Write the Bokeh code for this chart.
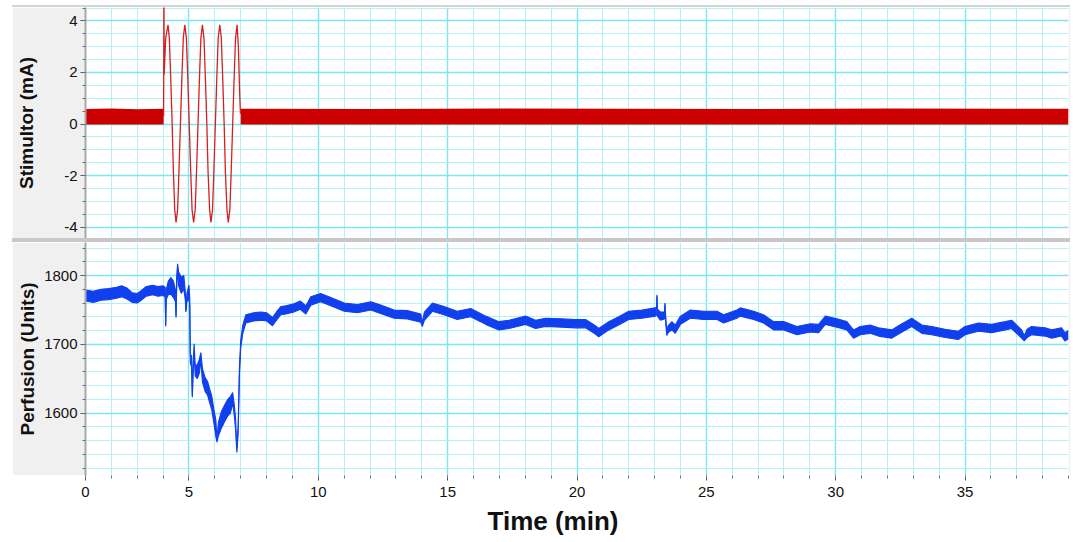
from bokeh.plotting import figure
from bokeh.layouts import column, row
from bokeh.models import Range1d, FixedTicker, Spacer, Div, Title
from bokeh.embed import file_html
from bokeh.resources import INLINE

# ---------------- data ----------------
# x axis (minutes)
x_tick_pos = [1, 5, 10, 15, 20, 25, 30, 35]
x_tick_labels = ["0", "5", "10", "15", "20", "25", "30", "35"]

# Stimulator baseline noise band (mA)
base_a_t = [1.00, 2.00, 3.00, 4.02]
base_a_hi = [0.55, 0.57, 0.54, 0.56]
base_a_lo = [-0.02, -0.02, -0.02, -0.02]
base_b_t = [7.00, 12.0, 17.0, 22.0, 27.0, 32.0, 39.0]
base_b_hi = [0.56, 0.55, 0.57, 0.56, 0.55, 0.57, 0.56]
base_b_lo = [-0.02, -0.02, -0.02, -0.02, -0.02, -0.02, -0.02]

# Stimulator burst (mA)
stim_t = [4.02, 4.03, 4.035, 4.04, 4.10, 4.19,
          4.24, 4.29, 4.35, 4.40, 4.45, 4.50,
          4.56, 4.61, 4.67, 4.73, 4.78, 4.84,
          4.90, 4.95, 5.01, 5.07, 5.12, 5.18,
          5.24, 5.29, 5.35, 5.41, 5.46, 5.52,
          5.58, 5.63, 5.69, 5.74, 5.80, 5.85,
          5.91, 5.96, 6.02, 6.08, 6.13, 6.19,
          6.25, 6.30, 6.36, 6.41, 6.47, 6.52,
          6.58, 6.63, 6.69, 6.75, 6.80, 6.86,
          6.91, 6.96, 6.99]
stim_v = [0.3, 4.9, 4.9, 1.9, 3.33, 3.85,
          3.33, 1.92, 0.0, -1.92, -3.33, -3.82,
          -3.33, -1.92, 0.0, 1.92, 3.33, 3.85,
          3.33, 1.92, 0.0, -1.92, -3.33, -3.82,
          -3.33, -1.92, 0.0, 1.92, 3.33, 3.85,
          3.33, 1.92, 0.0, -1.92, -3.33, -3.82,
          -3.33, -1.92, 0.0, 1.92, 3.33, 3.85,
          3.33, 1.92, 0.0, -1.92, -3.33, -3.82,
          -3.33, -1.92, 0.0, 1.92, 3.33, 3.85,
          3.0, 1.2, 0.4]

# Perfusion (Units): time, centre of the trace, half width of the noise band
perf_t = [1.00, 1.30, 1.60, 1.90, 2.20, 2.40, 2.60, 2.80, 3.00, 3.15, 3.35, 3.60, 3.80, 4.00, 4.08,
          4.10, 4.12, 4.20, 4.30, 4.40, 4.48, 4.50, 4.52, 4.56, 4.60, 4.70, 4.80, 4.86, 4.88, 4.92,
          5.00, 5.03, 5.05, 5.10, 5.13, 5.16, 5.20, 5.24, 5.32, 5.40, 5.46, 5.52, 5.62, 5.72, 5.80,
          5.88, 5.96, 6.04, 6.08, 6.14, 6.25, 6.38, 6.50, 6.60, 6.69, 6.75, 6.80, 6.85, 6.90, 6.95,
          7.00, 7.08, 7.20, 7.50, 7.80, 8.00, 8.23, 8.40, 8.55, 8.75, 9.06, 9.30, 9.52, 9.71, 10.09,
          10.48, 11.00, 11.51, 12.03, 12.41, 12.93, 13.44, 13.96, 14.02, 14.10, 14.41, 14.86, 15.37,
          15.89, 16.27, 16.47, 16.98, 17.37, 18.01, 18.40, 18.78, 19.43, 19.94, 20.33, 20.71, 20.84,
          21.23, 21.61, 22.00, 22.51, 23.03, 23.08, 23.09, 23.11, 23.22, 23.38, 23.40, 23.43, 23.47,
          23.52, 23.67, 23.80, 24.00, 24.38, 24.90, 25.41, 25.67, 26.18, 26.31, 26.83, 27.21, 27.60,
          27.99, 28.50, 29.02, 29.34, 29.60, 30.05, 30.43, 30.69, 30.95, 31.33, 31.65, 32.17, 32.43,
          32.94, 33.33, 33.71, 34.23, 34.74, 35.00, 35.52, 36.03, 36.55, 36.80, 37.19, 37.29, 37.40,
          37.57, 38.09, 38.35, 38.73, 38.86, 39.00]
perf_mid = [1771, 1769, 1772, 1773, 1775, 1777, 1774, 1768, 1767, 1771, 1777, 1779, 1777, 1778, 1776,
            1727, 1772, 1782, 1785, 1780, 1770, 1740, 1785, 1815, 1795, 1786, 1790, 1770, 1748, 1768,
            1776, 1762, 1680, 1675, 1624, 1665, 1695, 1662, 1660, 1668, 1682, 1655, 1642, 1636, 1625,
            1615, 1596, 1578, 1560, 1577, 1590, 1600, 1608, 1612, 1622, 1605, 1585, 1546, 1575, 1660,
            1700, 1722, 1737, 1740, 1741, 1740, 1733, 1742, 1749, 1750, 1753, 1757, 1750, 1763, 1768,
            1762, 1754, 1752, 1756, 1751, 1744, 1743, 1738, 1729, 1741, 1754, 1749, 1742,
            1746, 1739, 1735, 1727, 1729, 1735, 1729, 1732, 1731, 1730, 1730, 1721, 1717,
            1727, 1734, 1742, 1744, 1747, 1748, 1771, 1746, 1741, 1742, 1759, 1735, 1716,
            1722, 1727, 1722, 1735, 1744, 1742, 1742, 1737, 1744, 1747, 1742, 1737, 1727,
            1727, 1720, 1724, 1723, 1735, 1731, 1727, 1715, 1720, 1722, 1718, 1715, 1721,
            1732, 1722, 1720, 1716, 1713, 1720, 1725, 1723, 1727, 1729, 1715, 1709, 1716,
            1720, 1718, 1715, 1718, 1711, 1714]
perf_half = [8, 8, 8, 8, 8, 8, 8, 7, 7, 7, 7, 7, 7, 7, 7,
             1, 7, 10, 12, 12, 8, 1, 10, 2, 10, 12, 10, 6, 1, 6,
             10, 6, 6, 8, 1, 8, 6, 8, 10, 10, 6, 10, 10, 10, 10,
             10, 10, 12, 2, 10, 12, 12, 12, 12, 8, 8, 8, 3, 6, 6,
             6, 6, 6, 6, 6, 6, 6, 6, 6, 6, 6, 6, 6, 6, 6,
             6, 6, 6, 6, 6, 6, 6, 6, 3, 6, 6, 6, 6,
             6, 6, 6, 6, 6, 6, 6, 6, 6, 6, 6, 6, 6,
             6, 6, 6, 6, 6, 5, 1, 5, 6, 5, 1, 5, 3,
             5, 6, 6, 6, 6, 6, 6, 6, 6, 6, 6, 6, 6,
             6, 6, 6, 6, 6, 6, 6, 6, 6, 6, 6, 6, 6,
             6, 6, 6, 6, 6, 6, 6, 6, 6, 6, 6, 4, 6,
             6, 6, 6, 6, 6, 6]

stim_y_ticks = [-4, -2, 0, 2, 4]
stim_y_tick_labels = ["-4", "-2", "0", "2", "4"]
perf_y_ticks = [1600, 1700, 1800]
perf_y_tick_labels = ["1600", "1700", "1800"]

# ---------------- style ----------------
FONT = "Liberation Sans"
PANEL_GRAY = "#f0f0f0"
DIV_GRAY = "#c8c8c8"
MAJ_GRID = "#7ee6ee"
MIN_GRID = "#b2f2f4"
RED = "#cc0000"
RED_LINE = "#d81e1e"
BLUE = "#1040ee"
TOTAL_W = 1070
LEFT_PAD = 12
W = TOTAL_W - LEFT_PAD
X0, X1 = 1.0, 39.0
x_minor = list(range(1, 40))


def style_panel(p, yticks, ylabels, yminor, ylabel, standoff):
    p.background_fill_color = "white"
    p.border_fill_color = PANEL_GRAY
    p.outline_line_color = None
    p.xaxis.visible = False
    p.xaxis.ticker = FixedTicker(ticks=x_tick_pos, minor_ticks=x_minor)
    p.yaxis.ticker = FixedTicker(ticks=yticks, minor_ticks=yminor)
    for g in (p.xgrid, p.ygrid):
        g.grid_line_color = MAJ_GRID
        g.grid_line_width = 1.4
        g.minor_grid_line_color = MIN_GRID
        g.minor_grid_line_width = 1
    ax = p.yaxis[0]
    ax.axis_line_color = "#a8a8a8"
    ax.axis_line_width = 2
    ax.major_tick_line_color = "#505050"
    ax.major_tick_out = 5
    ax.major_tick_in = 0
    ax.minor_tick_line_color = "#707070"
    ax.minor_tick_out = 3
    ax.minor_tick_in = 0
    ax.major_label_overrides = dict(zip(yticks, ylabels))
    ax.major_label_text_font = FONT
    ax.major_label_text_font_size = "15px"
    ax.major_label_text_color = "#111111"
    ax.major_label_standoff = 3
    ax.axis_label = ylabel
    ax.axis_label_text_font = FONT
    ax.axis_label_text_font_size = "19px"
    ax.axis_label_text_font_style = "bold"
    ax.axis_label_text_color = "#111111"
    ax.axis_label_standoff = standoff


# ---------------- top panel ----------------
top = figure(width=W, height=231, output_backend="svg", toolbar_location=None,
             x_range=Range1d(X0, X1), y_range=Range1d(-4.44, 4.52),
             min_border_left=73, min_border_right=2, min_border_top=0, min_border_bottom=0)
style_panel(top, stim_y_ticks, stim_y_tick_labels, [i * 0.5 for i in range(-9, 10)],
            "Stimultor (mA)", 24)

top.varea(x=base_a_t, y1=base_a_lo, y2=base_a_hi, fill_color=RED)
top.varea(x=base_b_t, y1=base_b_lo, y2=base_b_hi, fill_color=RED)
top.line(base_a_t, base_a_hi, line_color=RED, line_width=1.5)
top.line(base_b_t, base_b_hi, line_color=RED, line_width=1.5)
top.line(stim_t, stim_v, line_color=RED_LINE, line_width=1.3)

# ---------------- bottom panel ----------------
bot = figure(width=W, height=233, output_backend="svg", toolbar_location=None,
             x_range=Range1d(X0, X1), y_range=Range1d(1509.4, 1848),
             min_border_left=73, min_border_right=2, min_border_top=0, min_border_bottom=0)
style_panel(bot, perf_y_ticks, perf_y_tick_labels, list(range(1520, 1850, 20)),
            "Perfusion (Units)", 3)

perf_lo = [m - h for m, h in zip(perf_mid, perf_half)]
perf_hi = [m + h for m, h in zip(perf_mid, perf_half)]
bot.varea(x=perf_t, y1=perf_lo, y2=perf_hi, fill_color=BLUE)
bot.line(perf_t, perf_lo, line_color=BLUE, line_width=1.1)
bot.line(perf_t, perf_hi, line_color=BLUE, line_width=1.1)

# ---------------- time axis strip ----------------
axp = figure(width=W, height=65, output_backend="svg", toolbar_location=None,
             x_range=Range1d(X0, X1), y_range=Range1d(0, 1),
             min_border_left=73, min_border_right=2, min_border_top=0, min_border_bottom=63)
axp.background_fill_color = "#b4b4b4"
axp.border_fill_color = "white"
axp.outline_line_color = None
axp.yaxis.visible = False
axp.xgrid.visible = False
axp.ygrid.visible = False
xa = axp.xaxis[0]
xa.ticker = FixedTicker(ticks=x_tick_pos, minor_ticks=x_minor)
xa.axis_line_color = None
xa.major_tick_line_color = "#505050"
xa.major_tick_out = 5
xa.major_tick_in = 0
xa.minor_tick_line_color = "#707070"
xa.minor_tick_out = 3
xa.minor_tick_in = 0
xa.major_label_overrides = dict(zip(x_tick_pos, x_tick_labels))
xa.major_label_text_font = FONT
xa.major_label_text_font_size = "15px"
xa.major_label_text_color = "#111111"
xa.major_label_standoff = 6
axp.add_layout(Title(text="Time (min)", align="left", offset=402, vertical_align="bottom",
                     text_font=FONT, text_font_size="26px", text_font_style="bold",
                     text_color="#111111", standoff=9), "below")

# ---------------- assembly ----------------
top_rule = column(Div(width=TOTAL_W, height=5, margin=0),
                  row(Spacer(width=LEFT_PAD, height=2, margin=0),
                      Div(width=W, height=2, margin=0,
                          styles={"background-color": "#d4d4d4"}),
                      spacing=0),
                  spacing=0)
divider = row(Spacer(width=LEFT_PAD, height=4, margin=0),
              Div(width=W, height=4, margin=0, styles={"background-color": DIV_GRAY}),
              spacing=0)

layout = column(top_rule,
                row(Spacer(width=LEFT_PAD, height=231, margin=0), top, spacing=0),
                divider,
                row(Spacer(width=LEFT_PAD, height=233, margin=0), bot, spacing=0),
                row(Spacer(width=LEFT_PAD, height=65, margin=0), axp, spacing=0),
                spacing=0)
open("out.html", "w").write(file_html(layout, INLINE))
